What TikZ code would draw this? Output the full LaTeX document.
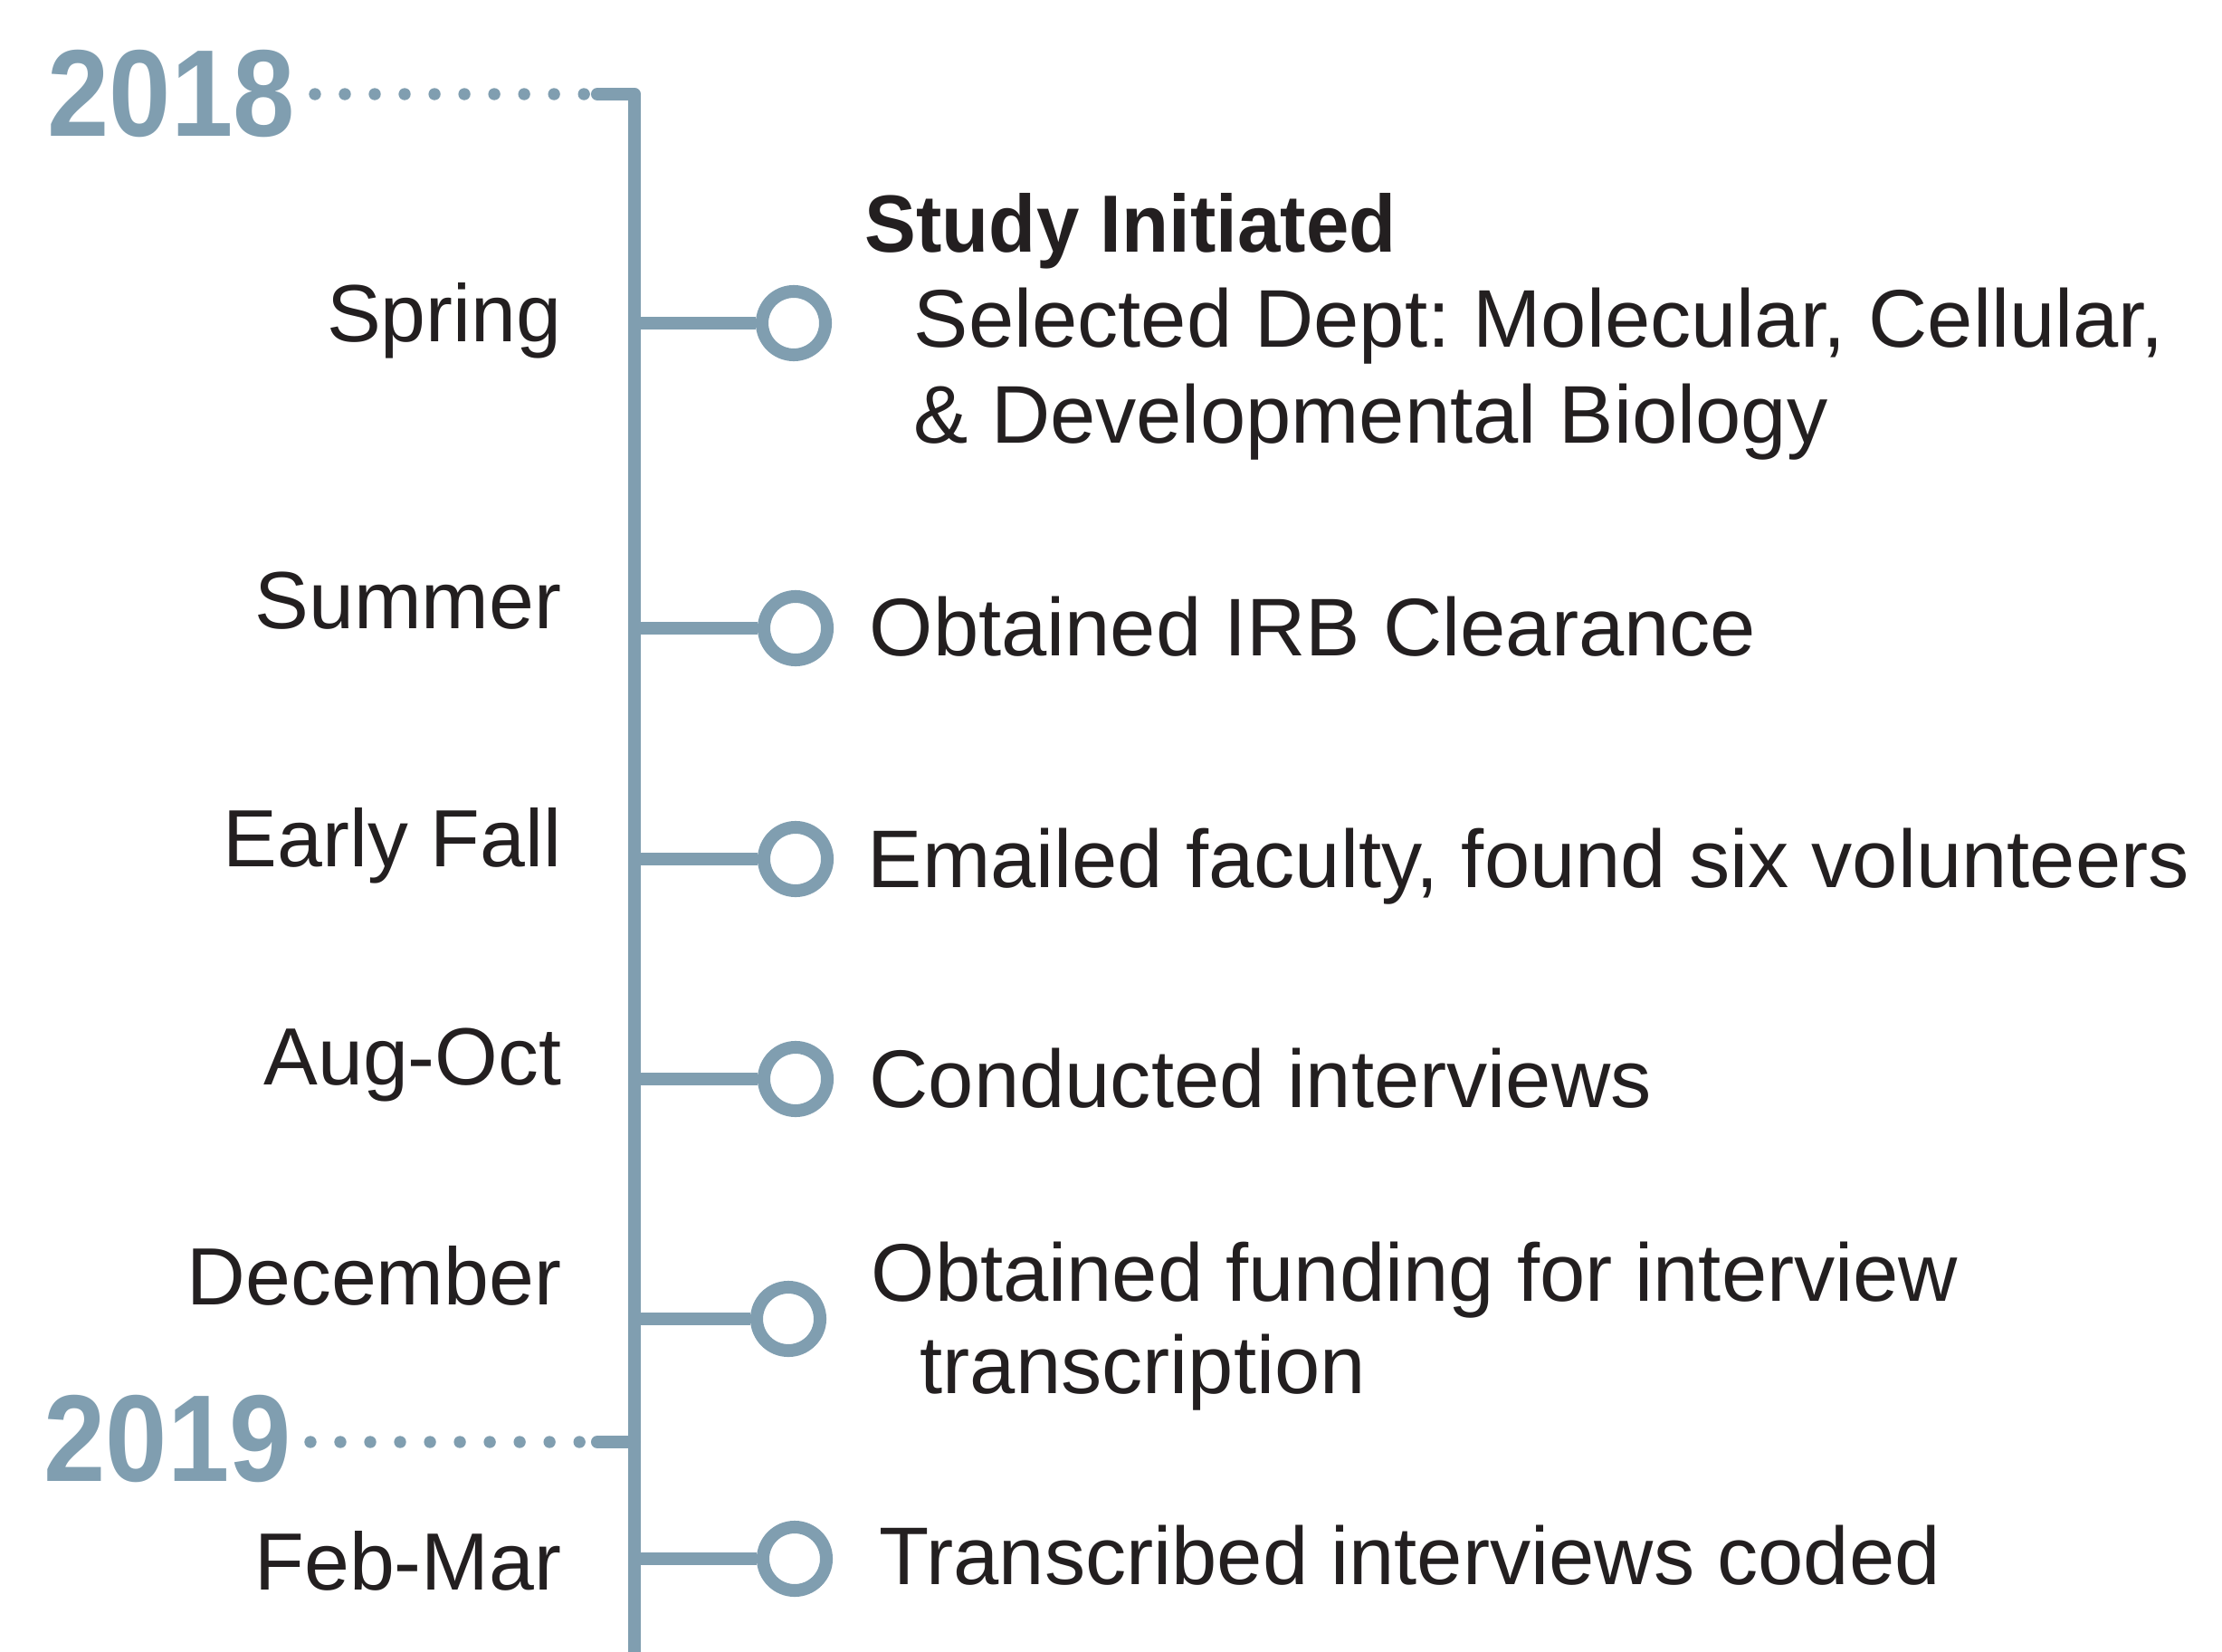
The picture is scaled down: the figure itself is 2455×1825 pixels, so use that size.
\documentclass[tikz,border=0pt]{standalone}
\usepackage{fontspec}
\setmainfont{Liberation Sans}[BoldFeatures={FakeStretch=0.95}]
\newfontfamily\yearfont[FakeStretch=0.9]{Liberation Sans}
\frenchspacing
\definecolor{spine}{RGB}{128,158,176}
\definecolor{ink}{RGB}{35,31,32}
\tikzset{
    season/.style={anchor=base east, inner sep=0pt, text=ink, font=\fontsize{25.5pt}{30pt}\selectfont},
    event/.style={anchor=base west, inner sep=0pt, text=ink, font=\fontsize{25.7pt}{30pt}\selectfont},
    yearmark/.style={anchor=west, inner sep=0pt, text=spine, font=\yearfont\bfseries\fontsize{38.8pt}{44pt}\selectfont},
    milestone/.style={circle, draw=spine, line width=4pt, minimum size=0.7cm, inner sep=0pt},
    dotline/.style={spine, line width=3.8pt, line cap=round, dash pattern=on 0pt off 0.33cm},
    spineline/.style={spine, line width=4pt}
}
\begin{document}
\begin{tikzpicture}[x=0.01cm, y=-0.01cm]
                \useasboundingbox (0,0) rectangle (2455,1825);
                \node[yearmark] (y18) at (52,104) {2018};
                \node[yearmark] (y19) at (48,1590) {2019};
                \coordinate (d18) at (348,104);
                \coordinate (e18) at (646,104);
                \coordinate (d19) at (343,1593);
                \coordinate (e19) at (641,1593);
                \coordinate (t18) at (660,104);
                \coordinate (t19) at (660,1593);
                \coordinate (top) at (701,104);
                \coordinate (mid) at (701,1593);
                \coordinate (bottom) at (701,1835);
                \draw[dotline] (d18) -- (e18);
                \draw[dotline] (d19) -- (e19);
                \draw[spineline, line cap=round] (t18) -- (top);
                \draw[spineline, line cap=round] (t19) -- (mid);
                \draw[spineline] (top) -- (bottom);

                \coordinate (b1) at (701,357);
                \coordinate (b2) at (701,694);
                \coordinate (b3) at (701,949);
                \coordinate (b4) at (701,1192);
                \coordinate (b5) at (701,1457);
                \coordinate (b6) at (701,1722);
                \node[milestone] (m1) at (877,357) {};
                \node[milestone] (m2) at (879,694) {};
                \node[milestone] (m3) at (879,949) {};
                \node[milestone] (m4) at (879,1192) {};
                \node[milestone] (m5) at (871,1457) {};
                \node[milestone] (m6) at (878,1722) {};
                \draw[spineline] (b1) -- (m1);
                \draw[spineline] (b2) -- (m2);
                \draw[spineline] (b3) -- (m3);
                \draw[spineline] (b4) -- (m4);
                \draw[spineline] (b5) -- (m5);
                \draw[spineline] (b6) -- (m6);

                \node[season] (spring) at (621,378) {Spring};
                \node[season] (summer) at (621,695) {Summer};
                \node[season] (earlyfall) at (621,957) {Early Fall};
                \node[season] (augoct) at (621,1198) {Aug-Oct};
                \node[season] (december) at (621,1441) {December};
                \node[season] (febmar) at (621,1756) {Feb-Mar};

                \node[event, font=\bfseries\fontsize{25.5pt}{30pt}\selectfont] (study) at (955,279) {Study Initiated};
                \node[event] (dept) at (1009,384) {Selected Dept: Molecular, Cellular,};
                \node[event] (biology) at (1009,490) {\& Developmental Biology};
                \node[event] (irb) at (960,725) {Obtained IRB Clearance};
                \node[event] (emailed) at (958,980) {Emailed faculty, found six volunteers};
                \node[event] (interviews) at (960,1223) {Conducted interviews};
                \node[event] (funding) at (962,1437) {Obtained funding for interview};
                \node[event] (transcription) at (1016,1539) {transcription};
                \node[event] (coded) at (971,1750) {Transcribed interviews coded};
            \end{tikzpicture}
\end{document}
